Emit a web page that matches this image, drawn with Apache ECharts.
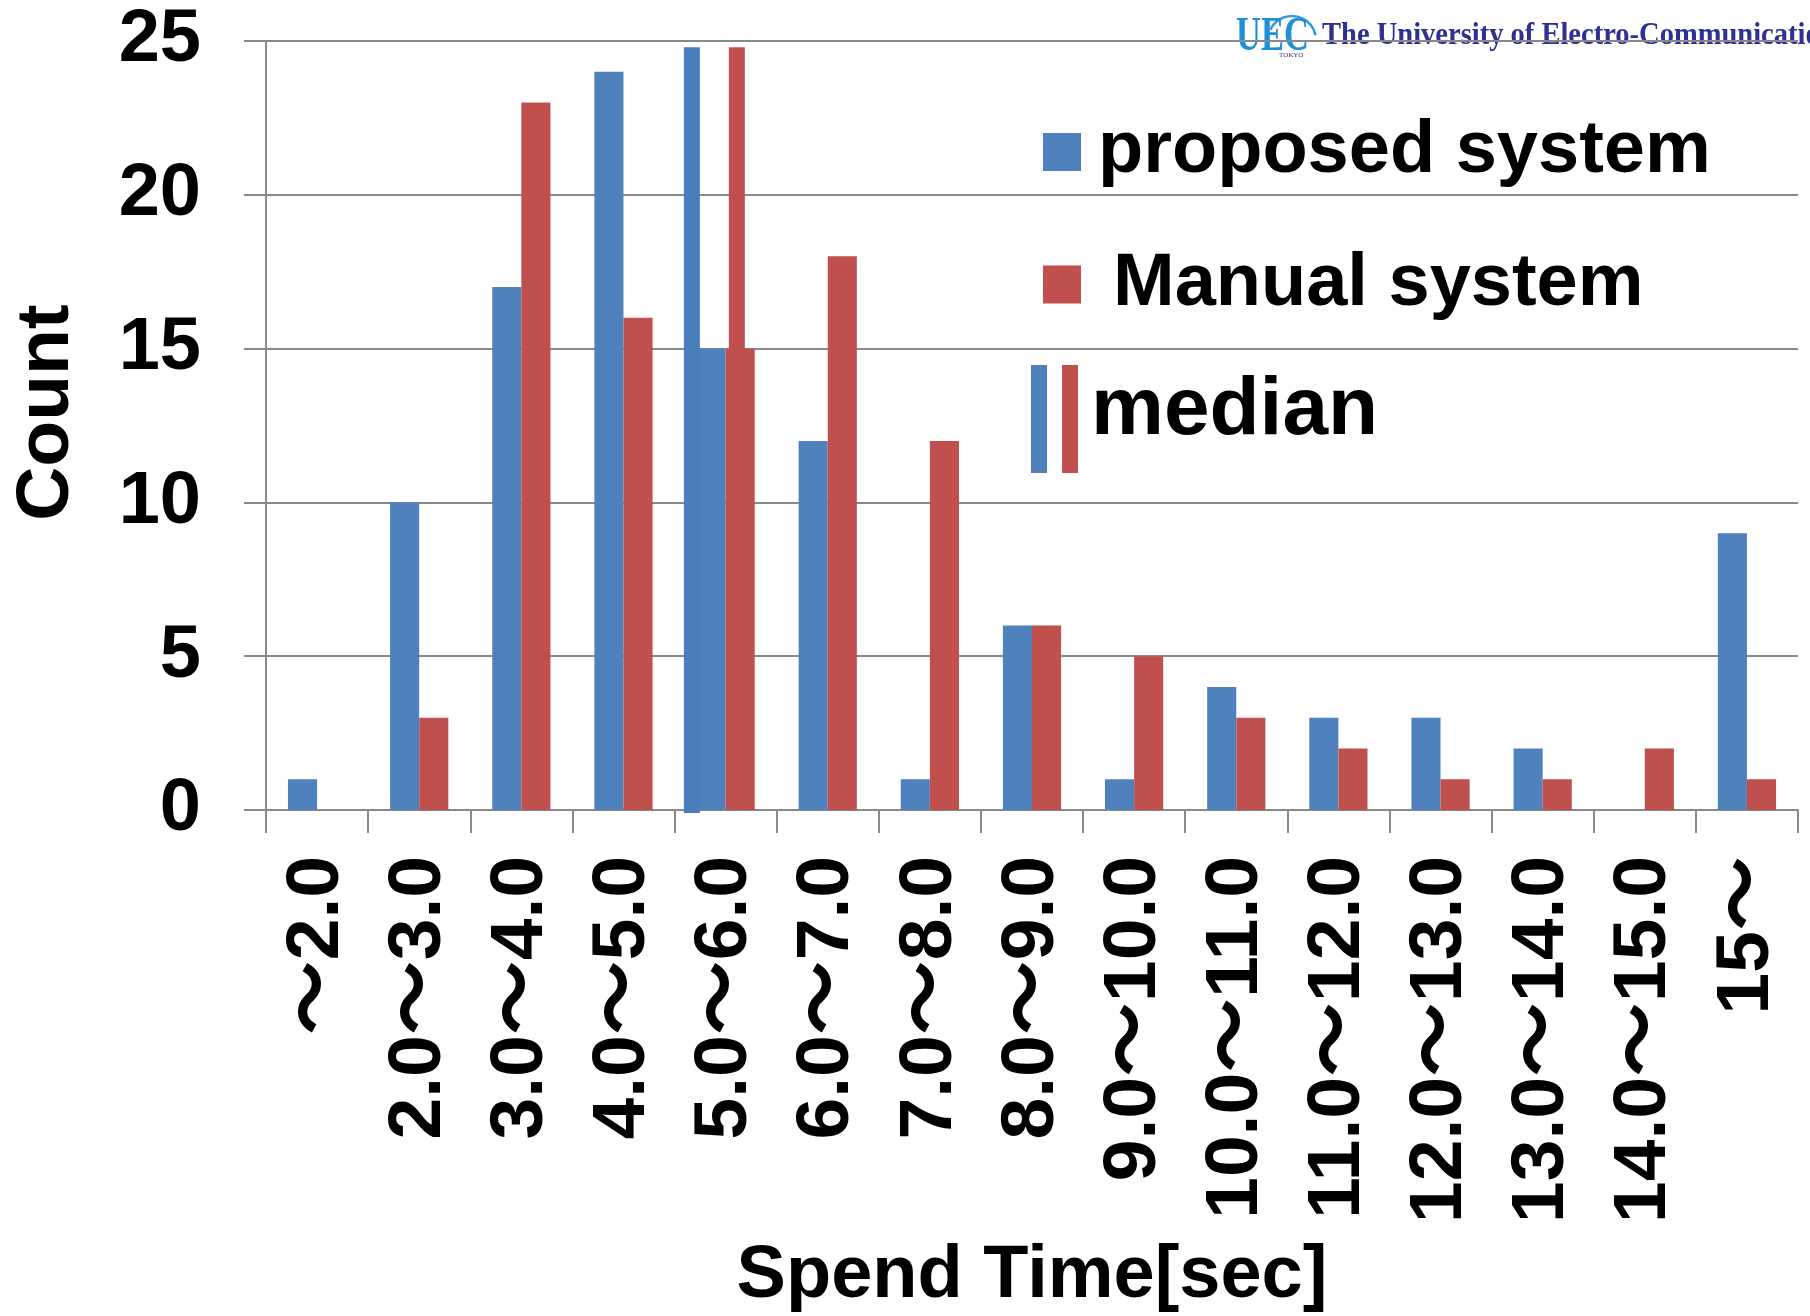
<!DOCTYPE html>
<html>
<head>
<meta charset="utf-8">
<script src="https://cdn.jsdelivr.net/npm/echarts@6/dist/echarts.min.js"></script>
<style>
html,body{margin:0;padding:0;background:#fff;}
#chart{width:1810px;height:1316px;}
</style>
</head>
<body>
<div id="chart"></div>
<script>
// ---- data ----
const categories = ['～2.0','2.0～3.0','3.0～4.0','4.0～5.0','5.0～6.0','6.0～7.0','7.0～8.0','8.0～9.0','9.0～10.0','10.0～11.0','11.0～12.0','12.0～13.0','13.0～14.0','14.0～15.0','15～'];
const proposedCounts = [1,10,17,24,15,12,1,6,1,4,3,3,2,0,9];
const manualCounts   = [0,3,23,16,15,18,12,6,5,3,2,1,1,2,1];
const countTicks = [0,5,10,15,20,25];
const timeRange = [1,16];            // seconds spanned by the 15 categories
const medianTimes = [5.17, 5.61];    // proposed, manual (seconds)
const medianHeights = [24.8, 24.8];
const seriesNames = ['proposed system','Manual system','median'];

// ---- styles ----
const BLUE = '#4F81BD', RED = '#C0504D', GRID = '#898989';
const SANS = '"Liberation Sans", Arial, "Noto Sans CJK JP", sans-serif';
const medianColors = ['#4A7EBB', RED];

const svgIcon = '<svg xmlns="http://www.w3.org/2000/svg" width="47" height="124">' +
  '<rect x="0" y="16" width="16" height="108" fill="' + BLUE + '"/>' +
  '<rect x="31" y="16" width="16" height="108" fill="' + RED + '"/></svg>';
const medianIcon = 'image://data:image/svg+xml;charset=utf-8,' + encodeURIComponent(svgIcon);

const chart = echarts.init(document.getElementById('chart'), null, {renderer:'canvas'});
const legendText = {color:'#000', fontWeight:'bold', fontFamily:SANS};

chart.setOption({
  animation:false,
  backgroundColor:'#fff',
  grid:{left:266, right:12, top:41, bottom:506, containLabel:false, outerBoundsMode:'none'},
  legend:[
    {data:[{name:seriesNames[0], icon:'rect'}], left:1043, top:115, padding:0, itemWidth:38, itemHeight:38, selectedMode:false,
     textStyle:Object.assign({fontSize:74, lineHeight:74, padding:[0,0,0,12]}, legendText)},
    {data:[{name:seriesNames[1], icon:'rect'}], left:1043, top:241, padding:0, itemWidth:38, itemHeight:38, selectedMode:false,
     textStyle:Object.assign({fontSize:74, lineHeight:74, padding:[0,0,13,27]}, legendText)},
    {data:[{name:seriesNames[2], icon:medianIcon}], left:1031, top:349, padding:0, itemWidth:47, itemHeight:124, selectedMode:false,
     textStyle:Object.assign({fontSize:82, lineHeight:82, padding:[0,0,0,8]}, legendText)}
  ],
  xAxis:[
    {type:'category', data:categories, boundaryGap:true,
     name:'Spend Time[sec]', nameLocation:'middle', nameGap:430,
     nameTextStyle:{fontSize:74, fontWeight:'bold', color:'#000', fontFamily:SANS},
     axisLine:{show:true, lineStyle:{color:GRID, width:2}},
     axisTick:{show:true, length:23, interval:0, lineStyle:{color:GRID, width:2}},
     axisLabel:{interval:0, rotate:90, margin:46, fontSize:75, fontWeight:'bold', color:'#000', fontFamily:SANS},
     splitLine:{show:false}},
    {type:'value', min:timeRange[0], max:timeRange[1], show:false}
  ],
  yAxis:{type:'value', min:countTicks[0], max:countTicks[countTicks.length-1], interval:countTicks[1]-countTicks[0],
     name:'Count', nameLocation:'middle', nameRotate:90, nameGap:181,
     nameTextStyle:{fontSize:75, fontWeight:'bold', color:'#000', fontFamily:SANS, padding:[0,0,0,26]},
     axisLine:{show:true, lineStyle:{color:GRID, width:2}},
     axisTick:{show:true, length:22, lineStyle:{color:GRID, width:2}},
     axisLabel:{margin:65, fontSize:74, fontWeight:'bold', color:'#000', fontFamily:SANS},
     splitLine:{show:true, lineStyle:{color:GRID, width:2}}},
  series:[
    {name:seriesNames[0], type:'bar', data:proposedCounts, itemStyle:{color:BLUE}, barGap:'0%', barCategoryGap:'43%'},
    {name:seriesNames[1], type:'bar', data:manualCounts, itemStyle:{color:RED}, barGap:'0%', barCategoryGap:'43%'},
    {name:seriesNames[2], type:'custom', xAxisIndex:1, yAxisIndex:0, z:5,
     data:medianTimes.map((t,i)=>[t, medianHeights[i]]),
     itemStyle:{color:BLUE},
     renderItem:function(params, api){
       const t = api.value(0), h = api.value(1);
       const top = api.coord([t, h]);
       const bottom = api.coord([t, 0]);
       const w = 16;
       const ext = params.dataIndex === 0 ? 3 : 0;
       return {type:'rect', shape:{x:top[0]-w/2, y:top[1], width:w, height:bottom[1]-top[1]+ext},
               style:{fill:medianColors[params.dataIndex]}};
     }}
  ],
  graphic:[
    {type:'arc', z:-1, shape:{cx:1292, cy:40, r:24, startAngle:-2.7, endAngle:-0.2}, style:{stroke:'#2A9BDF', lineWidth:2.5, fill:null}},
    {type:'text', z:-1, x:1236, y:38, scaleX:0.72, style:{text:'UEC', font:'bold 48px "Liberation Serif", serif', fill:'#1E90D6', verticalAlign:'middle', align:'left'}},
    {type:'text', z:-1, x:1279, y:55, style:{text:'TOKYO', font:'7px "Liberation Serif", serif', fill:'#2B2E83', verticalAlign:'middle', align:'left'}},
    {type:'text', z:-1, x:1322, y:36, scaleX:0.92, style:{text:'The University of Electro-Communications', font:'bold 31px "Liberation Serif", serif', fill:'#2E3192', verticalAlign:'middle', align:'left'}}
  ]
});
</script>
</body>
</html>
